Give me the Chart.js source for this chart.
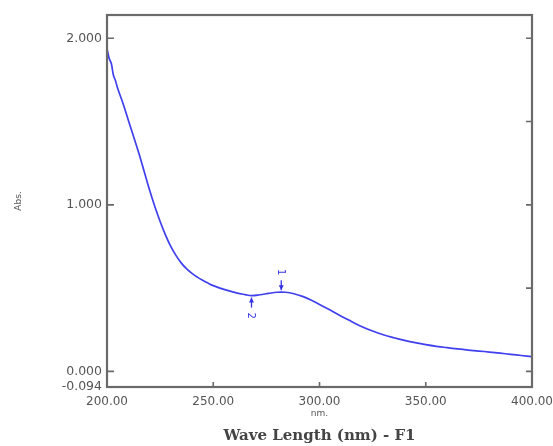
<!DOCTYPE html>
<html><head><meta charset="utf-8">
<script src="https://cdn.jsdelivr.net/npm/chart.js@4/dist/chart.umd.min.js"></script>
<style>html,body{margin:0;padding:0;background:#fff}#w{width:553px;height:446px}</style>
</head><body><div id="w"><canvas id="c"></canvas></div>
<script>
const wavelengths = [200,201,202,203,204,205,207.5,210,212.5,215,217.5,220,222.5,225,227.5,230,232.5,235,237.5,240,242.5,245,247.5,250,255,260,265,268,272,276,280,284,288,292,296,300,305,310,315,320,325,330,335,340,345,350,355,360,365,370,375,380,385,390,395,400];
const absorbance = [1.94,1.88,1.85,1.78,1.745,1.70,1.61,1.51,1.41,1.31,1.20,1.09,0.99,0.90,0.82,0.75,0.695,0.65,0.615,0.588,0.566,0.547,0.53,0.515,0.492,0.474,0.461,0.455,0.46,0.468,0.475,0.475,0.466,0.45,0.428,0.402,0.368,0.333,0.3,0.268,0.242,0.22,0.202,0.186,0.172,0.16,0.15,0.142,0.135,0.128,0.122,0.116,0.109,0.102,0.095,0.088];
const xTicks = [200,250,300,350,400];
const yTicks = [-0.094,0,1,2];
const rightTicks = [0,0.5,1,1.5,2];
const bottomTicks = [250,300,350];
const peakLabels = ["1","2"];
const peakWl = [282,268];
const peakAbs = [0.475,0.455];
const peakDir = [-1,1]; // -1 label above, 1 label below

const frame = {
  id:'frame',
  afterDraw(chart){
    const {ctx, chartArea:a, scales:{x,y}} = chart;
    ctx.save();
    ctx.strokeStyle='#6a6a6a'; ctx.lineWidth=2.2;
    ctx.strokeRect(a.left,a.top,a.right-a.left,a.bottom-a.top);
    ctx.lineWidth=1.6;
    ctx.beginPath();
    [0,1,2].forEach(v=>{const p=y.getPixelForValue(v);
      ctx.moveTo(a.left,p);ctx.lineTo(a.left+7,p);});
    rightTicks.forEach(v=>{const p=y.getPixelForValue(v);
      ctx.moveTo(a.right,p);ctx.lineTo(a.right-6,p);});
    bottomTicks.forEach(v=>{const p=x.getPixelForValue(v);
      ctx.moveTo(p,a.bottom);ctx.lineTo(p,a.bottom-5);});
    ctx.stroke();
    // peak annotations
    ctx.strokeStyle='#3535e6'; ctx.fillStyle='#3535e6'; ctx.lineWidth=1.3;
    ctx.font='10px "DejaVu Sans", sans-serif';
    peakLabels.forEach((t,i)=>{
      const px=x.getPixelForValue(peakWl[i]), py=y.getPixelForValue(peakAbs[i]);
      const d=peakDir[i];
      const tip=py+d*2, tail=py+d*12;
      ctx.beginPath();ctx.moveTo(px,tail);ctx.lineTo(px,tip);ctx.stroke();
      ctx.beginPath();ctx.moveTo(px,tip);ctx.lineTo(px-2.5,tip+d*5);ctx.lineTo(px+2.5,tip+d*5);ctx.closePath();ctx.fill();
      ctx.save();ctx.translate(px-1,py+d*20);ctx.rotate(Math.PI/2);
      ctx.textAlign='center';ctx.textBaseline='middle';ctx.fillText(t,0,0);ctx.restore();
    });
    ctx.restore();
  }
};

new Chart(document.getElementById('c'),{
  type:'line',
  data:{datasets:[{data:wavelengths.map((w,i)=>({x:w,y:absorbance[i]})),
    borderColor:'#4040ee',borderWidth:1.7,pointRadius:0,tension:0.4,fill:false}]},
  options:{
    responsive:true,maintainAspectRatio:false,animation:false,
    layout:{padding:{top:15,right:21,left:0,bottom:0}},
    plugins:{legend:{display:false},tooltip:{enabled:false},
      title:{display:true,position:'bottom',fullSize:false,text:'Wave Length (nm) - F1',
        font:{family:'"DejaVu Serif",serif',size:15,weight:'bold'},color:'#444',padding:{top:8,bottom:1}}},
    scales:{
      x:{type:'linear',min:200,max:400,
        afterBuildTicks(s){s.ticks=xTicks.map(v=>({value:v}));},
        afterFit(s){s.height=32;s.paddingRight=0;s.paddingLeft=0;},
        grid:{display:false,drawTicks:false},border:{display:false},
        ticks:{padding:8,color:'#555',font:{family:'"DejaVu Sans",sans-serif',size:12},callback:v=>v.toFixed(2),maxRotation:0,autoSkip:false},
        title:{display:true,text:'nm.',color:'#555',font:{family:'"DejaVu Sans",sans-serif',size:9},padding:{top:0,bottom:0}}},
      y:{type:'linear',min:-0.094,max:2.14,
        afterBuildTicks(s){s.ticks=yTicks.map(v=>({value:v}));},
        afterFit(s){s.width=107;s.paddingTop=0;s.paddingBottom=0;},
        grid:{display:false,drawTicks:false},border:{display:false},
        ticks:{padding:5,color:'#555',font:{family:'"DejaVu Sans",sans-serif',size:12.5},callback:v=>v.toFixed(3),autoSkip:false},
        title:{display:true,text:'Abs.',color:'#555',font:{family:'"DejaVu Sans",sans-serif',size:9},padding:{top:13,bottom:0}}}
    }
  },
  plugins:[frame]
});
</script></body></html>
